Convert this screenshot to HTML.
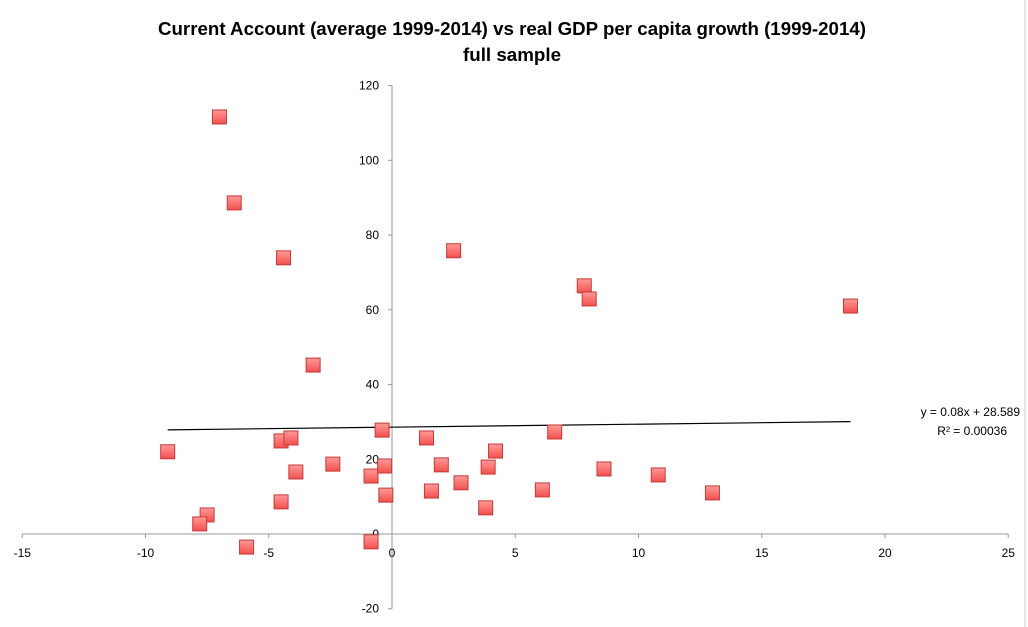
<!DOCTYPE html>
<html><head><meta charset="utf-8"><style>
body{margin:0;background:#fff;font-family:"Liberation Sans",sans-serif}
svg{display:block}
</style></head><body>
<svg id="chart" width="1028" height="627">
<defs><linearGradient id="mg" x1="0" y1="0" x2="0" y2="1"><stop offset="0" stop-color="#ff9a98"/><stop offset="1" stop-color="#f2504e"/></linearGradient></defs>
<line x1="1025" y1="0" x2="1025" y2="627" stroke="#ccc"/>
<text x="512" y="35" text-anchor="middle" font-size="18.5" font-weight="bold" textLength="708" lengthAdjust="spacingAndGlyphs">Current Account (average 1999-2014) vs real GDP per capita growth (1999-2014)</text>
<text x="512" y="61" text-anchor="middle" font-size="18.5" font-weight="bold" textLength="98" lengthAdjust="spacingAndGlyphs">full sample</text>
<g id="axes"></g><g id="marks"></g>
<text x="1020" y="416" text-anchor="end" font-size="12">y = 0.08x + 28.589</text>
<text x="1007" y="435" text-anchor="end" font-size="12">R² = 0.00036</text>
</svg>
<script>
const xTicks=[-15,-10,-5,0,5,10,15,20,25];
const yTicks=[-20,0,20,40,60,80,100,120];
const xVals=[-7.0,-6.4,-4.4,-3.2,-9.1,-4.5,-4.1,-3.9,-2.4,-0.85,-0.4,-0.3,-0.25,-0.85,-4.5,-7.5,-7.8,-5.9,1.4,1.6,2.0,2.8,2.5,3.9,3.8,4.2,6.1,6.6,7.8,8.0,8.6,10.8,13.0,18.6];
const yVals=[111.6,88.6,73.9,45.2,22.0,24.9,25.7,16.6,18.7,15.5,27.8,18.2,10.4,-2.1,8.6,5.1,2.7,-3.5,25.7,11.5,18.5,13.7,75.8,17.9,7.0,22.2,11.8,27.3,66.4,62.9,17.4,15.8,11.0,61.0];
const slope=[0.08], intercept=[28.589];
const X=v=>392+v*24.65, Y=v=>534-v*3.737;
const NS="http://www.w3.org/2000/svg";
const ax=document.getElementById('axes'), mk=document.getElementById('marks');
function el(t,a,p){const e=document.createElementNS(NS,t);for(const k in a)e.setAttribute(k,a[k]);p.appendChild(e);return e;}
let xl=el('line',{x1:X(-15),x2:X(25),y1:Y(0),y2:Y(0),stroke:'#999'},ax);


let yl=el('line',{x1:X(0),x2:X(0),y1:Y(-20),y2:Y(120),stroke:'#999'},ax);


xTicks.forEach(t=>{
 el('line',{x1:X(t),x2:X(t),y1:Y(0),y2:Y(0)+4,stroke:'#999'},ax);
 const tx=el('text',{x:X(t),y:Y(0)+23,'text-anchor':'middle','font-size':'12'},ax);tx.textContent=t;
 
 
});
yTicks.forEach(t=>{
 el('line',{x1:X(0)-4,x2:X(0),y1:Y(t),y2:Y(t),stroke:'#999'},ax);
 const tx=el('text',{x:X(0)-13,y:Y(t)+4,'text-anchor':'end','font-size':'12'},ax);tx.textContent=t;
 
 
});
const x0=Math.min(...xVals),x1=Math.max(...xVals);
const tl=el('line',{x1:X(x0),x2:X(x1),y1:Y(slope[0]*x0+intercept[0]),y2:Y(slope[0]*x1+intercept[0]),stroke:'#000','stroke-width':1.2},mk);


xVals.forEach((x,i)=>{
 const r=el('rect',{x:X(x)-7,y:Y(yVals[i])-7,width:14,height:14,fill:'url(#mg)',stroke:'#c43a38','stroke-width':1},mk);
 
 
});
</script>
</body></html>
